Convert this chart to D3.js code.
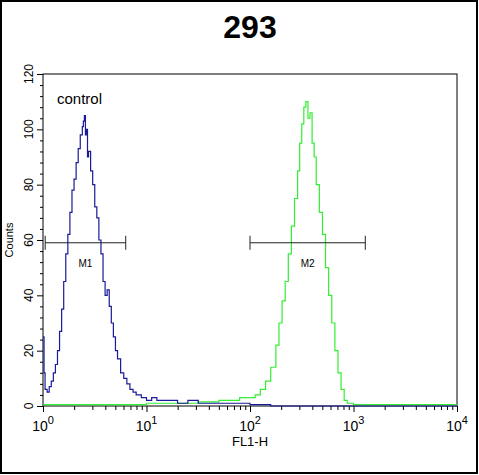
<!DOCTYPE html><html><head><script src="https://cdn.jsdelivr.net/npm/d3@7"></script>
<style>body{margin:0;background:#fff}</style></head><body><svg id="c" width="479" height="475"></svg>
<script>
const title="293";
const xTicks=[1,10,100,1000,10000];
const yTicks=[0,20,40,60,80,100,120];
const controlLog=[0,0.01,0.02,0.04,0.06,0.08,0.1,0.12,0.14,0.16,0.18,0.2,0.22,0.24,0.26,0.28,0.3,0.32,0.34,0.36,0.38,0.39,0.4,0.41,0.42,0.43,0.44,0.46,0.48,0.5,0.52,0.54,0.56,0.58,0.6,0.62,0.64,0.66,0.68,0.7,0.72,0.75,0.78,0.81,0.84,0.87,0.9,0.95,1.0,1.05,1.1,1.2,1.3,1.4,1.5,1.6,1.7,1.8,2.0,2.2,4];
const controlCnt=[25,12,6,5,7,9,12,15,20,27,35,45,55,62,70,78,82,88,93,98,101,103,105,98,100,90,92,85,80,72,68,60,55,45,40,42,36,30,25,20,17,12,10,8,6,5,4,3,2,3,2,2,1,2,1,1,1,1,0.5,0,0];
const sampleLog=[0,0.5,1.0,1.3,1.5,1.7,1.8,1.9,2.0,2.05,2.1,2.15,2.2,2.25,2.28,2.31,2.34,2.37,2.4,2.43,2.46,2.48,2.5,2.52,2.54,2.56,2.58,2.6,2.62,2.64,2.67,2.7,2.73,2.76,2.79,2.82,2.85,2.88,2.91,2.94,3.0,3.1,4];
const sampleCnt=[0.5,0.5,1,1,1.5,2,2,3,3,4,6,9,14,22,30,38,45,55,65,75,85,95,102,108,110,104,106,95,90,80,70,62,50,40,30,20,12,6,2,1,0.5,0.5,0.5];
const m1=[1.05,6.3], m2=[100,1300], markerY=59;
const svg=d3.select("#c");
svg.append("rect").attr("x",1).attr("y",1).attr("width",476).attr("height",472).attr("fill","none").attr("stroke","#000").attr("stroke-width",2);
const L=43,R=457,T=74,B=406;
const x=d3.scaleLog().domain([1,10000]).range([L,R]);
const y=d3.scaleLinear().domain([0,120]).range([B,T]);
svg.append("text").attr("x",250).attr("y",38).attr("text-anchor","middle").attr("font-family","Liberation Sans, Arial").attr("font-weight","bold").attr("font-size",32).text(title);
svg.append("rect").attr("x",L).attr("y",T).attr("width",R-L).attr("height",B-T).attr("fill","none").attr("stroke","#000");
const xa=svg.append("g").attr("transform",`translate(0,${B})`).call(d3.axisBottom(x).tickValues(d3.range(0,4).flatMap(e=>d3.range(1,10).map(k=>k*10**e)).concat([10000])).tickSize(4).tickFormat(""));
xa.select(".domain").remove();
xa.selectAll("line").filter(d=>xTicks.includes(d)).attr("y2",6);
xTicks.forEach((v,i)=>{const t=svg.append("text").attr("x",x(v)).attr("y",B+25).attr("text-anchor","middle").attr("font-family","Liberation Sans, Arial").attr("font-size",14);
t.append("tspan").text("10");t.append("tspan").attr("dy",-7).attr("font-size",11).text(i);});
const ya=svg.append("g").attr("transform",`translate(${L},0)`).call(d3.axisLeft(y).tickValues(d3.range(0,121,4)).tickSize(3).tickFormat(""));
ya.select(".domain").remove();
ya.selectAll("line").filter(d=>yTicks.includes(d)).attr("x2",-6);
yTicks.forEach(v=>svg.append("text").attr("transform",`translate(${L-10},${y(v)}) rotate(-90)`).attr("text-anchor","middle").attr("font-family","Liberation Sans, Arial").attr("font-size",12).text(v));
svg.append("text").attr("transform",`translate(13,${(T+B)/2}) rotate(-90)`).attr("text-anchor","middle").attr("font-family","Liberation Sans, Arial").attr("font-size",11).text("Counts");
svg.append("text").attr("x",(L+R)/2).attr("y",B+40).attr("text-anchor","middle").attr("font-family","Liberation Sans, Arial").attr("font-size",13).text("FL1-H");
const line=d3.line().x(d=>x(10**d[0])).y(d=>y(d[1])).curve(d3.curveStepAfter);
svg.append("path").datum(sampleLog.map((v,i)=>[v,sampleCnt[i]])).attr("d",line).attr("fill","none").attr("stroke","#33ee33").attr("stroke-width",1.2);
svg.append("path").datum(controlLog.map((v,i)=>[v,controlCnt[i]])).attr("d",line).attr("fill","none").attr("stroke","#1a1a99").attr("stroke-width",1.2);
[[m1,"M1"],[m2,"M2"]].forEach(([m,l])=>{const g=svg.append("g");
g.append("line").attr("x1",x(m[0])).attr("x2",x(m[1])).attr("y1",y(markerY)).attr("y2",y(markerY)).attr("stroke","#222");
m.forEach(v=>g.append("line").attr("x1",x(v)).attr("x2",x(v)).attr("y1",y(markerY)-7).attr("y2",y(markerY)+7).attr("stroke","#222"));
g.append("text").attr("x",(x(m[0])+x(m[1]))/2).attr("y",y(markerY)+24).attr("text-anchor","middle").attr("font-family","Liberation Sans, Arial").attr("font-size",10).text(l);});
svg.append("text").attr("x",57).attr("y",104).attr("font-family","Liberation Sans, Arial").attr("font-size",15).text("control");
</script></body></html>
